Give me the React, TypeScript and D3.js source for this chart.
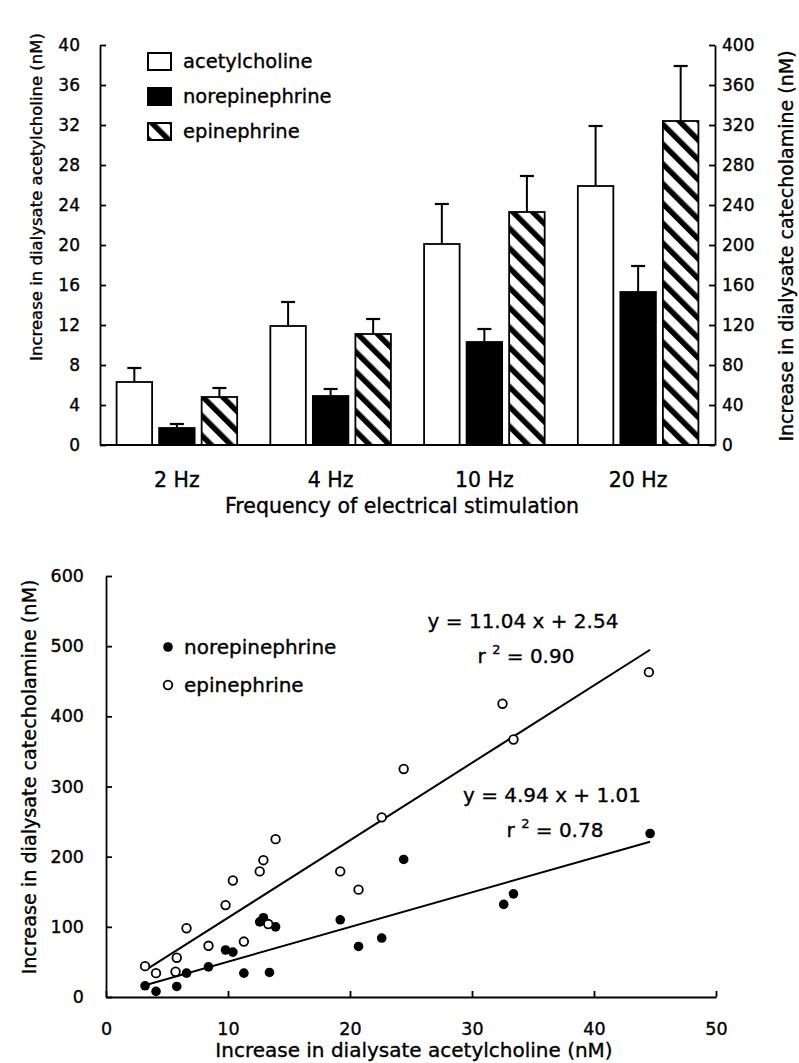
import React, { useEffect, useRef } from "react";
import * as d3 from "d3";

// top panel: bars by stimulation frequency
const frequencies = ["2 Hz", "4 Hz", "10 Hz", "20 Hz"];
const seriesNames = ["acetylcholine", "norepinephrine", "epinephrine"];
const achMean = [6.3, 11.9, 20.1, 25.9]; // nM, left axis
const achSem = [1.4, 2.4, 4.0, 6.0];
const neMean = [17, 49, 103, 153]; // nM, right axis
const neSem = [4, 7, 13, 26];
const epiMean = [48, 111, 233, 324]; // nM, right axis
const epiSem = [9, 15, 36, 55];
const leftTicks = [0, 4, 8, 12, 16, 20, 24, 28, 32, 36, 40];
const rightTicks = [0, 40, 80, 120, 160, 200, 240, 280, 320, 360, 400];

// bottom panel: catecholamine vs acetylcholine
const neX = [3.2, 4.1, 5.8, 6.6, 8.4, 9.8, 10.4, 11.3, 12.6, 12.9, 13.4, 13.9, 19.2, 20.7, 22.6, 24.4, 32.6, 33.4, 44.6];
const neY = [16, 8, 15, 34, 43, 67, 64, 34, 107, 113, 35, 100, 110, 72, 84, 196, 132, 147, 233];
const epiX = [3.2, 4.1, 5.8, 5.7, 6.6, 8.4, 9.8, 10.4, 11.3, 12.6, 12.9, 13.3, 13.9, 19.2, 20.7, 22.6, 24.4, 32.5, 33.4, 44.5];
const epiY = [44, 34, 56, 36, 98, 73, 131, 166, 79, 179, 195, 104, 225, 179, 153, 256, 325, 418, 367, 463];
const fitSlopes = [11.04, 4.94]; // epinephrine, norepinephrine
const fitIntercepts = [2.54, 1.01];
const fitR2 = ["0.90", "0.78"];
const fitXRange = [3.2, 44.6];
const scatterXTicks = [0, 10, 20, 30, 40, 50];
const scatterYTicks = [0, 100, 200, 300, 400, 500, 600];

const FONT = "DejaVu Sans, sans-serif";

export default function App() {
  const ref = useRef<SVGSVGElement>(null);

  useEffect(() => {
    const svg = d3.select(ref.current);
    svg.selectAll("*").remove();

    const hatch = svg
      .append("defs")
      .append("pattern")
      .attr("id", "hatch")
      .attr("patternUnits", "userSpaceOnUse")
      .attr("width", 14)
      .attr("height", 14)
      .attr("patternTransform", "rotate(-45)");
    hatch.append("rect").attr("width", 14).attr("height", 14).attr("fill", "#fff");
    hatch.append("rect").attr("width", 5.5).attr("height", 14).attr("fill", "#000");

    // ---------- top bar chart ----------
    const top = svg.append("g");
    const yL = d3.scaleLinear().domain([0, 40]).range([445, 45]);
    const yR = d3.scaleLinear().domain([0, 400]).range([445, 45]);
    const x0 = d3.scaleBand().domain(frequencies).range([100, 715]);
    const x1 = d3
      .scaleBand()
      .domain(seriesNames)
      .range([0, x0.bandwidth()])
      .paddingInner(0.165)
      .paddingOuter(0.39);

    const rows = frequencies.flatMap((f, i) => [
      { f, key: "acetylcholine", mean: achMean[i], sem: achSem[i], y: yL, fill: "#fff" },
      { f, key: "norepinephrine", mean: neMean[i], sem: neSem[i], y: yR, fill: "#000" },
      { f, key: "epinephrine", mean: epiMean[i], sem: epiSem[i], y: yR, fill: "url(#hatch)" },
    ]);

    const bar = top.selectAll("g.bar").data(rows).enter().append("g");
    bar
      .append("rect")
      .attr("x", (d) => x0(d.f)! + x1(d.key)!)
      .attr("y", (d) => d.y(d.mean))
      .attr("width", x1.bandwidth())
      .attr("height", (d) => d.y(0) - d.y(d.mean))
      .attr("fill", (d) => d.fill)
      .attr("stroke", "#000")
      .attr("stroke-width", 1.8);
    const cx = (d: any) => x0(d.f)! + x1(d.key)! + x1.bandwidth() / 2;
    bar
      .append("line")
      .attr("x1", cx)
      .attr("x2", cx)
      .attr("y1", (d) => d.y(d.mean))
      .attr("y2", (d) => d.y(d.mean + d.sem))
      .attr("stroke", "#000")
      .attr("stroke-width", 2);
    bar
      .append("line")
      .attr("x1", (d) => cx(d) - 7)
      .attr("x2", (d) => cx(d) + 7)
      .attr("y1", (d) => d.y(d.mean + d.sem))
      .attr("y2", (d) => d.y(d.mean + d.sem))
      .attr("stroke", "#000")
      .attr("stroke-width", 2.2);

    const leftAxis = top
      .append("g")
      .attr("transform", "translate(100,0)")
      .call(d3.axisLeft(yL).tickValues(leftTicks).tickSize(-6).tickSizeOuter(0).tickPadding(20));
    const rightAxis = top
      .append("g")
      .attr("transform", "translate(715,0)")
      .call(d3.axisRight(yR).tickValues(rightTicks).tickSize(-6).tickSizeOuter(0).tickPadding(7));
    [leftAxis, rightAxis].forEach((a) => {
      a.selectAll("path, line").attr("stroke", "#000").attr("stroke-width", 1.8);
      a.selectAll("text").attr("font-family", FONT).attr("font-size", 17).attr("fill", "#000");
    });

    top
      .append("line")
      .attr("x1", 100)
      .attr("x2", 715)
      .attr("y1", yL(0))
      .attr("y2", yL(0))
      .attr("stroke", "#000")
      .attr("stroke-width", 2);

    top
      .selectAll("text.cat")
      .data(frequencies)
      .enter()
      .append("text")
      .attr("x", (d) => x0(d)! + x0.bandwidth() / 2)
      .attr("y", 487)
      .attr("text-anchor", "middle")
      .attr("font-family", FONT)
      .attr("font-size", 20.5)
      .text((d) => d);

    top
      .append("text")
      .attr("x", 402)
      .attr("y", 513)
      .attr("text-anchor", "middle")
      .attr("font-family", FONT)
      .attr("font-size", 20.5)
      .text("Frequency of electrical stimulation");

    top
      .append("text")
      .attr("transform", "translate(42,197) rotate(-90)")
      .attr("text-anchor", "middle")
      .attr("font-family", FONT)
      .attr("font-size", 16.5)
      .text("Increase in dialysate acetylcholine (nM)");
    top
      .append("text")
      .attr("transform", "translate(793,246) rotate(-90)")
      .attr("text-anchor", "middle")
      .attr("font-family", FONT)
      .attr("font-size", 19)
      .text("Increase in dialysate catecholamine (nM)");

    // legend
    const legFills = ["#fff", "#000", "url(#hatch)"];
    const leg = top
      .selectAll("g.leg")
      .data(seriesNames)
      .enter()
      .append("g")
      .attr("transform", (_, i) => `translate(148,${53 + i * 35})`);
    leg
      .append("rect")
      .attr("width", 23)
      .attr("height", 17)
      .attr("fill", (_, i) => legFills[i])
      .attr("stroke", "#000")
      .attr("stroke-width", 2);
    leg
      .append("text")
      .attr("x", 35)
      .attr("y", 15)
      .attr("font-family", FONT)
      .attr("font-size", 19.5)
      .text((d) => d);

    // ---------- bottom scatter ----------
    const bot = svg.append("g");
    const xs = d3.scaleLinear().domain([0, 50]).range([106, 716]);
    const ys = d3.scaleLinear().domain([0, 600]).range([997, 576]);

    const yAxis = bot
      .append("g")
      .attr("transform", "translate(106,0)")
      .call(d3.axisLeft(ys).tickValues(scatterYTicks).tickSize(-6).tickSizeOuter(0).tickPadding(22));
    const xAxis = bot
      .append("g")
      .attr("transform", "translate(0,997)")
      .call(d3.axisBottom(xs).tickValues(scatterXTicks).tickSize(-6).tickSizeOuter(0).tickPadding(26));
    [yAxis, xAxis].forEach((a) => {
      a.selectAll("path, line").attr("stroke", "#000").attr("stroke-width", 1.8);
      a.selectAll("text").attr("font-family", FONT).attr("font-size", 17.5).attr("fill", "#000");
    });

    // regression lines
    fitSlopes.forEach((m, i) => {
      bot
        .append("line")
        .attr("x1", xs(fitXRange[0]))
        .attr("x2", xs(fitXRange[1]))
        .attr("y1", ys(m * fitXRange[0] + fitIntercepts[i]))
        .attr("y2", ys(m * fitXRange[1] + fitIntercepts[i]))
        .attr("stroke", "#000")
        .attr("stroke-width", 2);
    });

    bot
      .selectAll("circle.ne")
      .data(d3.zip(neX, neY))
      .enter()
      .append("circle")
      .attr("cx", (d) => xs(d[0]))
      .attr("cy", (d) => ys(d[1]))
      .attr("r", 4.8)
      .attr("fill", "#000");
    bot
      .selectAll("circle.epi")
      .data(d3.zip(epiX, epiY))
      .enter()
      .append("circle")
      .attr("cx", (d) => xs(d[0]))
      .attr("cy", (d) => ys(d[1]))
      .attr("r", 4.3)
      .attr("fill", "#fff")
      .attr("stroke", "#000")
      .attr("stroke-width", 1.8);

    // equations
    const eqPos = [
      { x: 523, y: 628 },
      { x: 552, y: 802 },
    ];
    fitSlopes.forEach((m, i) => {
      bot
        .append("text")
        .attr("x", eqPos[i].x)
        .attr("y", eqPos[i].y)
        .attr("text-anchor", "middle")
        .attr("font-family", FONT)
        .attr("font-size", 20)
        .text(`y = ${m.toFixed(2)} x + ${fitIntercepts[i].toFixed(2)}`);
      const r = bot
        .append("text")
        .attr("x", eqPos[i].x + 3)
        .attr("y", eqPos[i].y + 35)
        .attr("text-anchor", "middle")
        .attr("font-family", FONT)
        .attr("font-size", 20);
      r.append("tspan").text("r ");
      r.append("tspan").attr("dy", -9).attr("font-size", 13).text("2");
      r.append("tspan").attr("dy", 9).text(` = ${fitR2[i]}`);
    });

    // legend
    const leg2 = bot
      .selectAll("g.leg2")
      .data(["norepinephrine", "epinephrine"])
      .enter()
      .append("g")
      .attr("transform", (_, i) => `translate(168,${647 + i * 38})`);
    leg2
      .append("circle")
      .attr("r", (_, i) => (i === 0 ? 4.8 : 4.3))
      .attr("fill", (_, i) => (i === 0 ? "#000" : "#fff"))
      .attr("stroke", "#000")
      .attr("stroke-width", (_, i) => (i === 0 ? 0 : 1.8));
    leg2
      .append("text")
      .attr("x", 16)
      .attr("y", 7)
      .attr("font-family", FONT)
      .attr("font-size", 20)
      .text((d) => d);

    bot
      .append("text")
      .attr("x", 414)
      .attr("y", 1057)
      .attr("text-anchor", "middle")
      .attr("font-family", FONT)
      .attr("font-size", 20)
      .text("Increase in dialysate acetylcholine (nM)");
    bot
      .append("text")
      .attr("transform", "translate(36,777) rotate(-90)")
      .attr("text-anchor", "middle")
      .attr("font-family", FONT)
      .attr("font-size", 19.2)
      .text("Increase in dialysate catecholamine (nM)");

    // scanned print looks heavier than plain text
    svg.selectAll("text").attr("stroke", "#000").attr("stroke-width", 0.35);
  }, []);

  return (
    <div style={{ position: "absolute", left: 0, top: 0 }}>
      <svg ref={ref} width={799} height={1063} style={{ display: "block", background: "#fff" }} />
    </div>
  );
}
